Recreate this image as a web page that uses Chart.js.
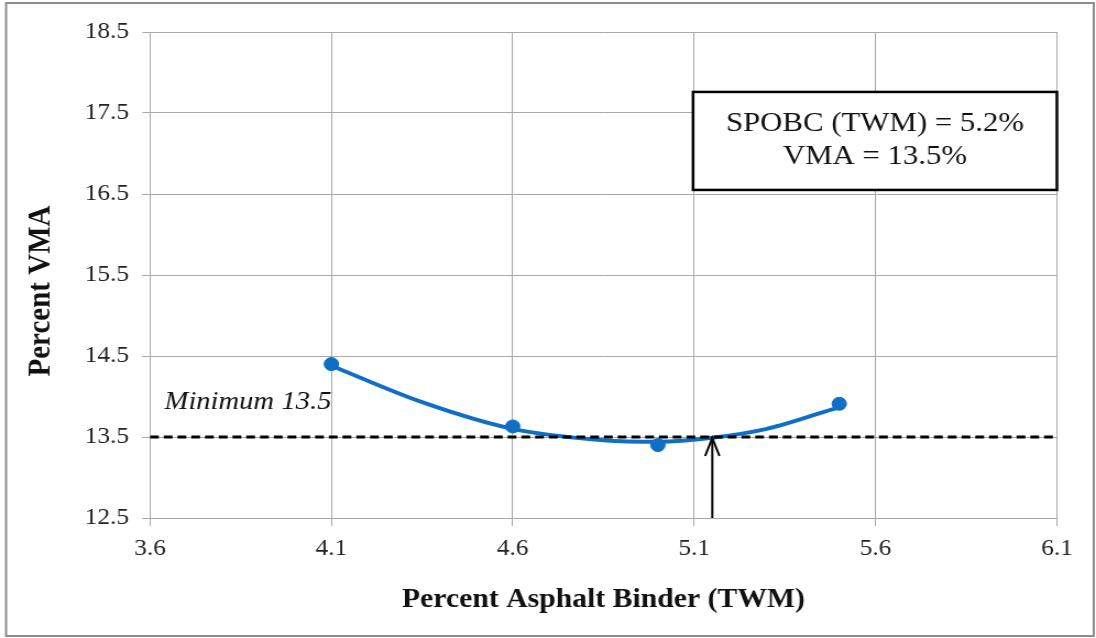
<!DOCTYPE html>
<html>
<head>
<meta charset="utf-8">
<script src="https://cdn.jsdelivr.net/npm/chart.js@4.4.0/dist/chart.umd.min.js"></script>
<style>
  html, body { margin: 0; padding: 0; background: #fff; overflow: hidden; }
  #wrap { width: 996px; height: 638px; transform: scaleX(1.1004); transform-origin: 0 0; }
</style>
</head>
<body>
<div id="wrap"><canvas id="myChart" width="996" height="638"></canvas></div>
<script>
// measured mix points
const binderX = [4.1, 4.6, 5.0, 5.5];
const vmaY = [14.40, 13.63, 13.40, 13.91];

// polynomial trend line
const trendX = [4.1, 4.35, 4.6, 4.85, 5.0, 5.15, 5.3, 5.5];
const trendY = [14.38, 13.93, 13.60, 13.46, 13.44, 13.49, 13.60, 13.87];

// minimum VMA line and the design binder content arrow
const minVma = 13.5;
const designBinder = 5.15;

const xTicks = [3.6, 4.1, 4.6, 5.1, 5.6, 6.1];
const yTicks = [12.5, 13.5, 14.5, 15.5, 16.5, 17.5, 18.5];

const boxLines = ['SPOBC (TWM) = 5.2%', 'VMA = 13.5%'];
const minLabel = 'Minimum 13.5';
const yTitle = 'Percent VMA';

const blue = '#0f6fc6';
const gridColor = '#a8a8a8';
const serif = "'Liberation Serif', 'Times New Roman', serif";

const extras = {
    id: 'extras',
    beforeDraw(chart) {
        const ctx = chart.ctx;
        ctx.save();
        ctx.strokeStyle = '#8c8c8c';
        ctx.lineWidth = 2;
        ctx.strokeRect(5.5, 3, 988.5, 633);

        // y axis title, rotated
        ctx.translate(38, (chart.chartArea.top + chart.chartArea.bottom) / 2 + 16);
        ctx.rotate(-Math.PI / 2);
        ctx.fillStyle = '#111';
        ctx.font = 'bold 29px ' + serif;
        ctx.textAlign = 'center';
        ctx.textBaseline = 'middle';
        ctx.fillText(yTitle, 0, 0);
        ctx.restore();
    },
    afterDatasetsDraw(chart) {
        const ctx = chart.ctx;
        const x = chart.scales.x;
        const y = chart.scales.y;

        // arrow head
        const tipX = x.getPixelForValue(designBinder);
        const tipY = y.getPixelForValue(minVma);
        ctx.save();
        ctx.strokeStyle = '#000';
        ctx.lineWidth = 2;
        ctx.beginPath();
        ctx.moveTo(tipX - 6.5, tipY + 19);
        ctx.lineTo(tipX, tipY + 1);
        ctx.lineTo(tipX + 6.5, tipY + 19);
        ctx.stroke();

        // minimum label
        ctx.fillStyle = '#111';
        ctx.font = 'italic 26px ' + serif;
        ctx.textAlign = 'left';
        ctx.textBaseline = 'middle';
        ctx.fillText(minLabel, x.getPixelForValue(3.64), y.getPixelForValue(13.93));

        // text box
        const bx1 = x.getPixelForValue(5.097);
        const bx2 = x.getPixelForValue(6.1);
        const by1 = y.getPixelForValue(17.76);
        const by2 = y.getPixelForValue(16.55);
        ctx.fillStyle = '#fff';
        ctx.fillRect(bx1, by1, bx2 - bx1, by2 - by1);
        ctx.strokeStyle = '#000';
        ctx.lineWidth = 2.5;
        ctx.strokeRect(bx1, by1, bx2 - bx1, by2 - by1);
        ctx.fillStyle = '#111';
        ctx.font = '28px ' + serif;
        ctx.textAlign = 'center';
        const cx = (bx1 + bx2) / 2;
        ctx.fillText(boxLines[0], cx, by1 + 32);
        ctx.fillText(boxLines[1], cx, by1 + 65);
        ctx.restore();
    }
};

const ctx = document.getElementById('myChart').getContext('2d');
const chart = new Chart(ctx, {
    type: 'scatter',
    data: {
        datasets: [
            {
                label: 'Minimum',
                data: [{x: xTicks[0], y: minVma}, {x: xTicks[xTicks.length - 1], y: minVma}],
                showLine: true,
                borderColor: '#000',
                borderWidth: 3,
                borderDash: [8, 4.5],
                pointRadius: 0
            },
            {
                label: 'Arrow',
                data: [{x: designBinder, y: yTicks[0]}, {x: designBinder, y: minVma}],
                showLine: true,
                borderColor: '#000',
                borderWidth: 2,
                pointRadius: 0
            },
            {
                label: 'VMA',
                data: binderX.map((v, i) => ({x: v, y: vmaY[i]})),
                showLine: false,
                pointRadius: 6.5,
                pointBackgroundColor: blue,
                pointBorderColor: blue
            },
            {
                label: 'Trend',
                data: trendX.map((v, i) => ({x: v, y: trendY[i]})),
                showLine: true,
                borderColor: blue,
                borderWidth: 4,
                cubicInterpolationMode: 'monotone',
                pointRadius: 0
            }
        ]
    },
    options: {
        responsive: false,
        animation: false,
        layout: {
            padding: {top: 32, right: 35.5, bottom: 0, left: 0}
        },
        plugins: {
            legend: {display: false},
            tooltip: {enabled: false}
        },
        scales: {
            x: {
                type: 'linear',
                min: 3.6,
                max: 6.1,
                afterBuildTicks: s => { s.ticks = xTicks.map(v => ({value: v})); },
                afterFit: s => { s.height = 120; },
                ticks: {
                    callback: v => v.toFixed(1),
                    color: '#222',
                    font: {family: serif, size: 23},
                    padding: 9,
                    maxRotation: 0
                },
                grid: {color: gridColor, tickLength: 8},
                border: {color: gridColor},
                title: {
                    display: true,
                    text: 'Percent Asphalt Binder (TWM)',
                    color: '#111',
                    font: {family: serif, size: 27, weight: 'bold'},
                    padding: {top: 0, bottom: 22}
                }
            },
            y: {
                type: 'linear',
                min: 12.5,
                max: 18.5,
                afterBuildTicks: s => { s.ticks = yTicks.map(v => ({value: v})); },
                afterFit: s => { s.width = 136.3; },
                ticks: {
                    callback: v => v.toFixed(1),
                    color: '#222',
                    font: {family: serif, size: 23},
                    padding: 12
                },
                grid: {color: gridColor, tickLength: 7},
                border: {color: gridColor}
            }
        }
    },
    plugins: [extras]
});
</script>
</body>
</html>
